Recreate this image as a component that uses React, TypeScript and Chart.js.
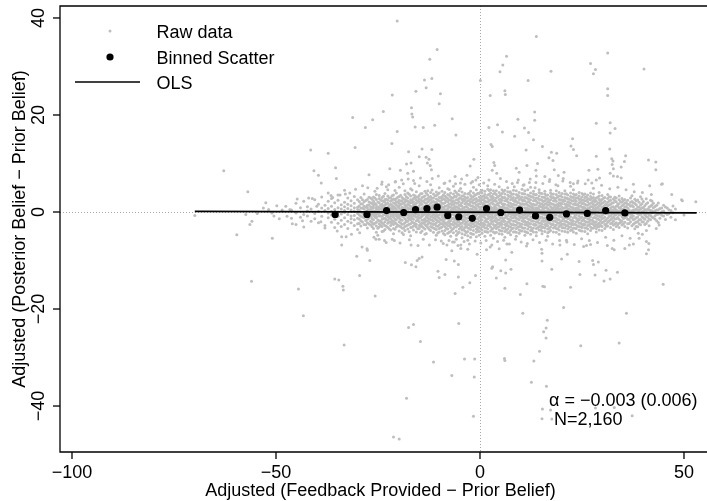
import React, { useEffect, useRef } from "react";
import { Chart, registerables } from "chart.js";

Chart.register(...registerables);

// ---- Data ----
const binX = [-35.5, -27.7, -22.9, -18.7, -15.8, -13.0, -10.5, -7.9, -5.2, -1.9, 1.6, 5.1, 9.7, 13.6, 17.1, 21.2, 26.3, 30.8, 35.5];
const binY = [-0.5, -0.5, 0.3, -0.1, 0.5, 0.7, 1.0, -0.7, -1.0, -1.3, 0.7, -0.1, 0.4, -0.8, -1.1, -0.4, -0.3, 0.3, -0.2];

const olsX = [-69.9, 53.1];
const olsY = [0.12, -0.17];

const xTicks = [-100, -50, 0, 50];
const yTicks = [-40, -20, 0, 20, 40];
const xTickLabels = ["\u2212100", "\u221250", "0", "50"];
const yTickLabels = ["\u221240", "\u221220", "0", "20", "40"];

const legendLabels = ["Raw data", "Binned Scatter", "OLS"];
const noteLines = ["\u03b1 = \u22120.003 (0.006)", "N=2,160"];
const xTitle = "Adjusted (Feedback Provided \u2212 Prior Belief)";
const yTitle = "Adjusted (Posterior Belief \u2212 Prior Belief)";

// scattered raw observations
const rawOutliers: [number, number][] = [
  [-20.3,39.4],[-10.5,33.5],[-12.3,31.5],[-21.5,24.1],[-13.6,27.2],[-11.8,27.5],[-13.2,25.6],[-15.7,24.9],[-9.7,24.4],[-10.0,22.3],
  [-23.7,20.7],[-16.8,21.5],[-16.7,20.2],[-16.5,19.6],[-31.2,19.5],[-26.3,19.0],[-28.1,17.4],[-15.9,17.5],[-13.9,17.4],[-11.1,17.9],
  [-6.8,19.2],[-20.3,16.6],[-5.9,15.9],[-30.6,13.3],[-21.6,14.1],[-17.5,12.4],[-14.2,13.0],[-11.8,12.9],[-14.9,11.4],[-13.2,11.3],
  [-12.5,10.9],[-12.9,10.1],[-12.2,9.6],[-11.9,8.7],[-18.0,9.9],[-16.9,10.1],[-22.1,8.9],[-19.5,8.6],[-17.7,8.0],[-16.3,8.4],
  [-27.2,7.7],[-24.0,6.2],[-24.1,5.7],[-20.7,6.3],[-19.2,6.6],[-17.6,6.8],[-16.3,6.5],[-6.1,7.3],[-4.8,6.0],[-2.4,9.5],
  [-1.5,10.9],[-2.2,6.0],[-1.0,6.6],[0.1,27.1],[2.5,24.0],[4.9,28.9],[5.6,30.3],[6.5,32.1],[6.1,25.0],[6.2,24.2],
  [11.8,27.1],[13.8,36.2],[17.4,29.0],[13.4,20.6],[13.4,18.9],[2.2,17.4],[4.3,18.0],[5.5,16.5],[9.3,19.1],[10.9,17.3],
  [11.9,16.4],[13.1,14.9],[8.5,15.6],[2.7,13.9],[3.0,13.5],[11.3,12.8],[15.3,13.5],[22.7,15.1],[22.3,13.6],[22.9,12.9],
  [23.7,11.6],[17.5,12.3],[18.8,12.1],[17.9,10.6],[3.4,10.2],[3.6,9.6],[3.0,8.6],[4.1,8.0],[8.9,9.0],[9.6,8.2],
  [11.5,9.6],[14.1,10.0],[13.7,8.6],[16.9,11.2],[18.2,8.7],[19.2,7.5],[20.6,8.2],[31.3,32.8],[27.1,30.6],[27.8,28.5],
  [28.3,29.4],[31.3,25.4],[31.3,24.0],[40.2,29.5],[28.5,18.3],[31.9,18.4],[33.1,17.2],[31.9,16.3],[31.8,13.0],[28.5,11.5],
  [26.7,8.6],[28.9,8.8],[32.3,11.0],[32.6,10.5],[32.4,9.8],[32.7,8.9],[35.7,11.6],[35.4,10.4],[34.6,9.3],[41.3,10.7],
  [43.1,10.3],[43.1,8.7],[41.6,5.4],[44.5,5.7],[37.6,5.7],[47.0,3.6],[31.9,8.0],[32.7,7.4],[33.7,7.3],[34.6,7.0],
  [26.5,6.6],[27.4,6.0],[28.5,6.6],[29.3,7.0],[22.1,6.1],[23.9,6.0],[22.9,5.8],[15.9,7.3],[17.1,6.7],[20.3,6.4],
  [19.1,5.4],[9.2,6.1],[10.6,5.5],[12.1,6.1],[13.7,6.1],[13.5,5.0],[7.4,4.2],[8.4,5.2],[49.4,2.5],
  [-41.5,12.8],[-37.2,12.1],[-62.8,8.5],[-40.7,8.5],[-35.4,9.1],[-39.6,7.6],[-35.2,6.9],[-38.9,6.0],[-56.9,4.2],[-33.2,4.5],
  [-31.9,3.9],[-37.2,3.9],[-42.0,2.9],[-41.1,2.8],[-36.5,3.4],[-36.1,3.0],[-34.3,3.5],[-33.0,3.7],[-69.9,-0.7],[-57.4,-0.5],
  [-55.9,-1.9],[-56.4,-2.6],[-59.6,-4.7],[-50.9,-5.4],[-49.2,-1.4],[-51.0,-0.2],[-53.1,0.8],[-51.8,0.5],[-49.8,1.3],[-47.6,1.2],
  [-46.6,0.5],[-33.9,-5.1],[-32.8,-5.1],[-33.9,-6.8],[-30.2,-9.1],[-35.6,-13.8],[-34.6,-14.0],[-33.6,-15.3],[-56.0,-14.3],[-44.5,-15.9],
  [-43.3,-21.4],[-29.5,-13.1],[-27.5,5.0],[-20.8,6.2],
  [-33.5,-16.1],[-28.9,-7.2],[-27.7,-7.6],[-27.6,-7.9],[-27.0,-10.0],[-25.7,-17.3],[-33.3,-27.4],[-25.5,-5.6],[-24.7,-5.6],[-23.4,-5.9],
  [-21.5,-5.6],[-18.3,-10.4],[-16.9,-6.8],[-16.8,-10.9],[-15.7,-11.3],[-15.4,-10.0],[-14.9,-9.6],[-14.2,-9.3],[-17.5,-23.8],[-16.3,-23.2],
  [-14.6,-26.7],[-11.4,-30.9],[-18.0,-38.4],[-21.2,-46.4],[-19.8,-46.8],[-10.3,-12.2],[-10.0,-13.5],[-8.6,-12.9],[-8.3,-9.8],[-6.3,-10.1],
  [-5.3,-10.8],[-9.0,-6.5],[-7.6,-5.9],[-6.9,-8.0],[-6.3,-6.2],[-4.7,-6.8],[-4.7,-7.5],[-3.0,-7.7],[-5.3,-13.4],[-6.1,-16.8],
  [-4.2,-15.5],[-2.5,-14.6],[-1.1,-13.1],[-0.7,-8.7],[-5.2,-23.0],[-3.8,-30.3],[-1.3,-30.3],[-6.9,-33.7],[-1.4,-34.0],[-1.6,-42.1],
  [1.6,-7.8],[2.5,-7.2],[3.1,-11.3],[2.9,-11.6],[4.0,-13.6],[4.7,-7.6],[5.1,-12.1],[6.3,-9.9],[6.3,-12.6],[6.1,-15.7],
  [6.6,-6.6],[7.6,-11.8],[7.8,-8.3],[9.9,-17.0],[10.5,-20.9],[11.4,-7.0],[11.5,-14.8],[6.0,-30.2],[6.1,-30.6],[13.2,-30.7],
  [12.6,-35.1],[14.6,-28.7],[15.1,-7.7],[15.2,-8.5],[15.2,-10.1],[17.6,-11.8],[15.4,-15.3],[15.8,-15.4],[20.0,-9.7],[21.4,-8.7],
  [24.3,-10.2],[22.2,-15.5],[24.5,-12.9],[27.6,-10.0],[27.8,-10.8],[29.0,-10.3],[28.2,-13.0],[30.9,-12.0],[30.4,-14.2],[31.9,-13.8],
  [33.7,-12.4],[44.9,-14.9],[20.5,-19.7],[35.9,-20.9],[16.5,-22.3],[16.2,-23.9],[15.6,-24.7],[16.2,-26.0],[24.7,-27.6],[34.1,-27.0],
  [16.3,-35.9],[15.3,-40.6],[17.3,-40.8],[28.3,-40.4],[37.3,-42.0],[15.2,-42.6],[17.6,-42.7],[32.9,-40.3],
  [26.1,-6.9],[27.1,-6.7],[25.4,-7.1],[31.2,-6.9],[32.4,-7.5],[32.9,-7.8],[35.5,-7.5],[36.6,-6.8],[37.6,-6.6],[40.8,-6.1],
  [41.3,-7.8],[39.8,-4.6],[19.6,-6.8],[21.2,-5.8],[52.9,2.1],[49.6,2.3],[47.9,-1.6],[50.0,-0.6],[43.9,-2.7],[44.7,5.8],
  [41.4,-6.5],[40.8,-8.6],[39.0,-5.4],
];

// mid-range raw observations around the central band
const rawMid: [number, number][] = [
  [-28.8,5.4],[-26.0,-5.2],[-25.2,4.9],[-23.0,-6.3],[-22.4,5.6],[-21.0,-5.9],[-19.6,-6.4],[-18.8,5.8],[-17.3,-5.7],[-16.0,5.9],
  [-15.2,-6.9],[-14.6,7.0],[-13.9,-5.6],[-13.0,6.3],[-12.4,-6.8],[-11.7,6.9],[-10.9,-5.7],[-10.2,7.4],[-9.5,-6.0],[-8.8,5.9],
  [-8.1,-6.8],[-7.4,6.4],[-6.7,-6.2],[-6.0,5.8],[-5.4,-6.9],[-4.5,6.8],[-3.9,-6.1],[-3.2,7.6],[-2.6,-6.6],[-1.8,6.3],
  [-1.2,-6.0],[-0.5,7.1],[0.2,-6.4],[0.9,6.0],[1.5,-5.9],[2.2,6.6],[2.9,-6.8],[3.6,5.7],[4.3,-6.1],[5.0,6.9],
  [5.8,-5.8],[6.5,6.3],[7.2,-6.6],[7.9,5.9],[8.7,-5.6],[9.4,6.6],[10.1,-6.2],[10.8,5.6],[11.6,-6.5],[12.3,6.8],
  [13.0,-5.7],[13.8,7.4],[14.6,-6.3],[15.4,5.9],[16.2,-5.8],[17.0,6.3],[17.8,-6.6],[18.6,5.6],[19.5,-5.9],[20.4,6.9],
  [21.3,-6.2],[22.2,5.3],[23.1,-6.7],[24.0,6.4],[24.9,-5.5],[25.8,5.8],[26.8,-5.9],[27.8,4.9],[28.8,-6.3],[29.8,5.5],
  [30.8,-5.2],[31.8,4.8],[32.8,-5.8],[33.8,5.1],[34.8,-4.9],[35.8,4.6],[36.8,-5.4],[37.8,4.2],[38.8,-4.4],[39.8,4.0],
  [40.8,-3.8],[42.0,3.6],[43.2,-3.4],[-31.5,-4.6],[-30.5,4.7],[-29.5,-4.3],[-35.0,-3.9],[-38.0,-3.3],[-40.0,1.2],[-43.5,-1.8],
  [-48.5,0.4],[-50.5,-0.8],[-52.5,1.9],[-54.6,-0.3],[-46.0,-2.4],[-44.8,2.7],[-47.3,-0.9],[-39.0,-2.0],
];

// dense central band of raw observations, listed column by column: [x, ys]
const rawBand: [number, number[]][] = [
  [-46.2,[0.4,-1.3]],[-45.1,[1.8,-0.2,-2.6]],[-44.0,[0.9,-1.1]],[-43.2,[-0.5,2.2,-3.1]],[-42.3,[1.1,-0.8,0.2]],
  [-41.4,[-1.9,0.6]],[-40.5,[2.5,-0.3,-1.4]],[-39.6,[0.1,1.6,-2.2]],[-38.8,[-0.9,0.8,3.1]],[-38.0,[-2.8,0.3,1.4]],
  [-37.2,[-1.2,0.7,2.2,-0.2]],[-36.4,[1.2,-0.6,-2.1,2.8,0.1]],[-35.6,[-1.5,0.5,1.9,-3.2,-0.2]],[-34.8,[0.9,-0.9,2.4,-2.3,0.0,3.5]],
  [-34.0,[-0.4,1.5,-1.7,0.6,-3.0]],[-33.2,[0.3,-1.2,2.0,-2.6,1.1,-0.1]],[-32.4,[1.6,-0.5,-1.9,0.7,2.9,-3.4]],
  [-31.6,[-0.8,0.4,1.3,-2.2,2.3,-1.4]],[-30.8,[0.2,-1.6,1.8,-0.7,3.2,-2.8,0.9]],[-30.0,[-0.3,1.0,-1.3,2.5,-2.4,0.5,-3.6]],
  [-29.2,[0.8,-0.9,1.7,-1.8,3.0,0.0,-2.9]],[-28.4,[-0.5,0.6,2.1,-1.2,-2.6,1.2,3.7,-0.1]],[-27.6,[0.3,-1.5,1.4,-0.6,2.6,-2.2,0.9,-3.3]],
  [-26.8,[-0.9,0.5,1.9,-1.9,0.0,2.9,-2.7,1.1,-0.4]],
  [-26.1,[0.2,-0.7,1.3,-1.6,2.2,-2.5,0.8,-0.2,3.1,-3.4,1.7]],
  [-25.4,[-0.4,0.6,-1.2,1.5,-2.1,2.6,-0.9,0.1,-2.9,3.6,1.0,-4.2]],
  [-24.7,[0.5,-0.3,1.1,-1.8,1.9,-2.4,2.8,-0.8,-3.1,0.0,3.4]],
  [-24.0,[-0.1,0.9,-0.9,1.6,-1.5,2.3,-2.2,-3.0,3.0,0.4,-4.0,1.3]],
  [-23.3,[0.7,-0.5,1.4,-1.3,2.0,-2.0,-2.8,2.6,0.1,-3.6,3.8]],
  [-22.6,[-0.6,0.3,1.0,-1.7,1.8,-2.3,2.4,-0.2,-3.2,3.3,-1.0,0.9,4.6]],
  [-21.9,[0.0,-0.9,0.8,1.6,-1.4,-2.1,2.2,-2.8,2.9,-3.7,0.5,-0.4]],
  [-21.2,[0.4,-0.2,1.2,-1.1,1.9,-1.9,2.7,-2.6,-3.4,3.5,0.9,-0.7,-4.5]],
  [-20.5,[-0.3,0.6,1.5,-0.8,-1.6,2.1,-2.4,2.8,-3.1,0.2,3.9,-0.1]],
  [-19.8,[0.8,-0.5,0.1,1.3,-1.3,2.4,-2.0,-2.9,3.2,-3.9,1.8,-1.0,5.1]],
  [-19.1,[-0.2,0.5,1.0,-0.9,1.7,-1.7,2.3,-2.5,3.0,-3.3,0.0,-4.3]],
  [-18.4,[0.3,-0.7,1.4,-1.4,2.0,-2.2,2.6,-3.0,0.8,-0.1,3.6,-3.8,4.4]],
  [-17.7,[-0.5,0.2,0.9,-1.2,1.6,-1.9,2.2,-2.7,2.9,-0.2,-3.5,3.9]],
  [-17.0,[0.6,-0.3,1.2,-1.0,1.9,-1.6,2.5,-2.4,-3.2,3.3,0.0,-0.8,4.8,-4.9]],
  [-16.3,[0.1,-0.8,0.7,1.5,-1.5,2.1,-2.2,2.8,-2.9,3.5,-3.7,0.4,-0.3]],
  [-15.6,[-0.4,0.5,1.1,-1.1,1.8,-1.8,2.4,-2.5,3.1,-3.1,0.0,-4.1,4.2]],
  [-14.9,[0.3,-0.6,1.3,-1.3,2.0,-2.0,2.7,-2.8,3.4,-3.4,0.8,-0.1,5.4]],
  [-14.2,[-0.2,0.6,0.9,-0.9,1.6,-1.7,2.3,-2.3,3.0,-3.0,3.8,-3.9,0.2,-0.6]],
  [-13.5,[0.5,-0.4,1.2,-1.4,1.9,-2.0,2.6,-2.6,3.3,-3.5,4.3,0.0,-4.6]],
  [-12.8,[0.0,-0.7,0.7,1.4,-1.3,2.1,-1.9,2.8,-2.5,3.5,-3.2,4.4,0.3,-0.3]],
  [-12.1,[0.4,-0.2,1.1,-1.0,1.8,-1.6,2.5,-2.3,3.2,-3.0,4.0,-3.8,0.9,5.6]],
  [-11.4,[-0.5,0.2,0.9,-1.2,1.5,-1.9,2.2,-2.6,2.9,-3.3,3.7,-4.2,0.6,-0.1]],
  [-10.7,[0.6,-0.3,1.3,-0.9,2.0,-1.6,2.7,-2.2,3.4,-2.9,4.1,-3.6,0.0,-4.8]],
  [-10.0,[0.1,-0.6,0.8,-1.3,1.6,-2.0,2.3,-2.7,3.0,-3.4,3.9,-4.1,0.4,5.0]],
  [-9.3,[-0.3,0.4,1.1,-1.0,1.8,-1.7,2.5,-2.4,3.2,-3.1,4.3,-3.9,0.0,-0.7]],
  [-8.6,[0.5,-0.2,1.2,-0.9,1.9,-1.5,2.6,-2.2,3.3,-3.0,-3.8,4.0,0.0,-4.7,6.0]],
  [-7.9,[0.0,-0.8,0.7,1.4,-1.4,2.1,-2.1,2.8,-2.8,3.6,-3.5,-4.4,4.8,0.3]],
  [-7.2,[0.3,-0.4,1.0,-1.1,1.7,-1.8,2.4,-2.5,3.1,-3.2,3.9,-4.0,0.0,-5.0]],
  [-6.5,[-0.5,0.2,0.9,-1.3,1.6,-2.0,2.3,-2.7,3.0,-3.4,3.7,-4.3,0.6,-0.1,5.3]],
  [-5.8,[0.4,-0.3,1.1,-1.0,1.8,-1.7,2.5,-2.4,3.2,-3.1,4.0,-3.9,0.0,-4.8,-5.6]],
  [-5.1,[0.0,-0.6,0.7,-1.4,1.4,-2.1,2.1,-2.8,2.8,-3.5,3.5,-4.2,4.4,0.3,-0.2]],
  [-4.4,[0.5,-0.2,1.2,-0.9,1.9,-1.6,2.6,-2.3,3.3,-3.0,-3.7,4.1,0.0,-4.5,-5.3]],
  [-3.7,[-0.4,0.3,1.0,-1.1,1.7,-1.8,2.4,-2.5,3.1,-3.2,3.8,-3.9,0.0,-4.7,5.7]],
  [-3.0,[0.2,-0.5,0.9,-1.2,1.6,-1.9,2.3,-2.6,3.0,-3.3,-4.0,3.7,0.0,-4.9,-5.8]],
  [-2.3,[-0.1,0.6,-0.8,1.3,-1.5,2.0,-2.2,2.7,-2.9,3.4,-3.6,-4.4,4.3,0.3,-5.2]],
  [-1.6,[0.4,-0.3,1.1,-1.0,1.8,-1.7,2.5,-2.4,3.2,-3.1,3.9,-3.8,0.0,-4.6,5.1]],
  [-0.9,[0.0,-0.7,0.7,-1.4,1.4,-2.1,2.1,-2.8,2.8,-3.5,3.6,-4.2,4.6,0.3,-5.1]],
  [-0.2,[0.3,-0.4,1.0,-1.1,1.7,-1.8,2.4,-2.5,3.1,-3.2,3.8,-4.0,-4.8,0.0,5.6]],
  [0.5,[-0.3,0.4,1.1,-0.9,1.8,-1.6,2.5,-2.3,3.2,-3.0,3.9,-3.7,4.5,0.0,-4.4]],
  [1.2,[0.2,-0.5,0.8,-1.2,1.5,-1.9,2.2,-2.6,2.9,-3.3,3.6,-4.0,4.3,0.5,-0.1,-5.0]],
  [1.9,[0.0,-0.7,0.7,-1.4,1.4,-2.1,2.1,-2.8,2.8,-3.5,3.5,-4.2,4.7,0.3,5.4]],
  [2.6,[0.4,-0.3,1.1,-1.0,1.8,-1.7,2.5,-2.4,3.2,-3.1,3.9,-3.9,0.0,-4.8,4.6]],
  [3.3,[-0.2,0.5,0.9,-1.2,1.6,-1.9,2.3,-2.6,3.0,-3.3,3.7,-4.1,0.2,4.4,-5.4]],
  [4.0,[0.1,-0.6,0.8,-1.3,1.5,-2.0,2.2,-2.7,2.9,-3.4,3.6,-4.2,4.4,0.4,-0.2]],
  [4.7,[0.5,-0.2,1.2,-0.9,1.9,-1.6,2.6,-2.3,3.3,-3.0,4.0,-3.7,0.0,-4.5,5.2]],
  [5.4,[-0.4,0.3,1.0,-1.1,1.7,-1.8,2.4,-2.5,3.1,-3.2,3.8,-3.9,0.0,-4.6,4.6]],
  [6.1,[0.2,-0.5,0.9,-1.2,1.6,-1.9,2.3,-2.6,3.0,-3.3,3.7,-4.0,4.5,0.0,-5.2]],
  [6.8,[0.0,-0.7,0.7,-1.4,1.4,-2.1,2.1,-2.8,2.8,-3.5,3.5,-4.3,4.2,0.3,5.0]],
  [7.5,[0.4,-0.3,1.1,-1.0,1.8,-1.7,2.5,-2.4,3.2,-3.1,3.9,-3.8,0.0,-4.7]],
  [8.2,[-0.2,0.5,0.9,-1.2,1.6,-1.9,2.3,-2.6,3.0,-3.3,3.7,-4.1,0.2,4.5,-0.6]],
  [8.9,[0.1,-0.6,0.8,-1.3,1.5,-2.0,2.2,-2.7,2.9,-3.4,3.6,-4.2,4.4,0.4,-5.0]],
  [9.6,[0.5,-0.2,1.2,-0.9,1.9,-1.6,2.6,-2.3,3.3,-3.0,4.0,-3.7,0.0,-4.4]],
  [10.3,[-0.4,0.3,1.0,-1.1,1.7,-1.8,2.4,-2.5,3.1,-3.2,3.8,-3.9,0.0,4.7]],
  [11.0,[0.2,-0.5,0.9,-1.2,1.6,-1.9,2.3,-2.6,3.0,-3.3,3.7,-4.0,4.4,0.0,-4.8]],
  [11.7,[0.0,-0.7,0.7,-1.4,1.4,-2.1,2.1,-2.8,2.8,-3.5,3.5,-4.3,0.3,4.6]],
  [12.4,[0.4,-0.3,1.1,-1.0,1.8,-1.7,2.5,-2.4,3.2,-3.1,3.9,-3.8,0.0,-4.6,5.1]],
  [13.1,[-0.2,0.5,0.9,-1.2,1.6,-1.9,2.3,-2.6,3.0,-3.3,3.7,-4.1,0.2,4.3]],
  [13.8,[0.1,-0.6,0.8,-1.3,1.5,-2.0,2.2,-2.7,2.9,-3.4,3.6,-4.2,0.4,-4.9]],
  [14.5,[0.5,-0.2,1.2,-0.9,1.9,-1.6,2.6,-2.3,3.3,-3.0,4.0,-3.7,0.0,4.6]],
  [15.2,[-0.4,0.3,1.0,-1.1,1.7,-1.8,2.4,-2.5,3.1,-3.2,3.8,-3.9,0.0,-4.5]],
  [15.9,[0.2,-0.5,0.9,-1.2,1.6,-1.9,2.3,-2.6,3.0,-3.3,3.7,-4.0,4.3,0.0]],
  [16.6,[0.0,-0.7,0.7,-1.4,1.4,-2.1,2.1,-2.8,2.8,-3.5,3.5,-4.3,0.3,-5.0]],
  [17.3,[0.4,-0.3,1.1,-1.0,1.8,-1.7,2.5,-2.4,3.2,-3.1,3.9,-3.8,0.0,4.5]],
  [18.0,[-0.2,0.5,0.9,-1.2,1.6,-1.9,2.3,-2.6,3.0,-3.3,3.7,-4.1,0.2]],
  [18.7,[0.1,-0.6,0.8,-1.3,1.5,-2.0,2.2,-2.7,2.9,-3.4,3.6,-4.2,0.4,4.4]],
  [19.4,[0.5,-0.2,1.2,-0.9,1.9,-1.6,2.6,-2.3,3.3,-3.0,4.0,-3.7,0.0,-4.6]],
  [20.1,[-0.4,0.3,1.0,-1.1,1.7,-1.8,2.4,-2.5,3.1,-3.2,3.8,-3.9,0.0]],
  [20.8,[0.2,-0.5,0.9,-1.2,1.6,-1.9,2.3,-2.6,3.0,-3.3,3.7,-4.0,4.4]],
  [21.5,[0.0,-0.7,0.7,-1.4,1.4,-2.1,2.1,-2.8,2.8,-3.5,3.5,-4.2,0.3]],
  [22.2,[0.4,-0.3,1.1,-1.0,1.8,-1.7,2.5,-2.4,3.2,-3.1,3.9,-3.8,0.0]],
  [22.9,[-0.2,0.5,0.9,-1.2,1.6,-1.9,2.3,-2.6,3.0,-3.3,3.7,-4.1,4.6]],
  [23.6,[0.1,-0.6,0.8,-1.3,1.5,-2.0,2.2,-2.7,2.9,-3.4,3.6,0.4,-4.4]],
  [24.3,[0.5,-0.2,1.2,-0.9,1.9,-1.6,2.6,-2.3,3.3,-3.0,4.0,-3.7,0.0]],
  [25.0,[-0.4,0.3,1.0,-1.1,1.7,-1.8,2.4,-2.5,3.1,-3.2,3.8,-3.9]],
  [25.7,[0.2,-0.5,0.9,-1.2,1.6,-1.9,2.3,-2.6,3.0,-3.3,3.7,-4.0,0.0]],
  [26.4,[0.0,-0.7,0.7,-1.4,1.4,-2.1,2.1,-2.8,2.8,-3.5,3.5,0.3,-4.5]],
  [27.1,[0.4,-0.3,1.1,-1.0,1.8,-1.7,2.5,-2.4,3.2,-3.1,3.9,-3.8]],
  [27.8,[-0.2,0.5,0.9,-1.2,1.6,-1.9,2.3,-2.6,3.0,-3.3,3.7,0.2]],
  [28.5,[0.1,-0.6,0.8,-1.3,1.5,-2.0,2.2,-2.7,2.9,-3.4,-4.1,0.4]],
  [29.2,[0.5,-0.2,1.2,-0.9,1.9,-1.6,2.6,-2.3,3.3,-3.0,4.0,-3.7]],
  [29.9,[0.2,-0.7,1.0,-1.4,1.8,-2.2,2.6,-3.0,3.4,-0.2,-3.8]],
  [30.6,[-0.3,0.5,-1.1,1.4,-1.8,2.2,-2.6,3.0,0.1,-3.4]],
  [31.3,[0.6,-0.4,1.3,-1.3,2.0,-2.1,2.8,-2.9,0.0,3.6]],
  [32.0,[0.0,-0.8,0.8,-1.6,1.6,-2.4,2.4,-3.2,3.1,0.4]],
  [32.7,[0.3,-0.3,1.1,-1.1,1.9,-1.9,2.7,-2.7,-3.6,0.0]],
  [33.4,[-0.5,0.4,1.2,-1.4,2.1,-2.2,2.9,-3.0,0.0]],
  [34.1,[0.1,-0.6,0.9,-1.5,1.7,-2.3,2.5,-3.2,3.3]],
  [34.8,[0.5,-0.2,1.3,-1.0,2.0,-1.9,-2.7,2.8,0.0]],
  [35.5,[-0.3,0.3,1.0,-1.2,1.8,-2.1,2.6,-3.0]],
  [36.2,[0.2,-0.6,0.8,-1.5,1.6,-2.4,2.4,0.0,-3.3]],
  [36.9,[0.0,-0.4,1.2,-1.1,2.0,-2.0,2.9]],
  [37.6,[0.4,-0.8,1.1,-1.6,1.9,-2.5,-0.1]],
  [38.3,[-0.2,0.6,-1.2,1.5,-2.1,2.3,-3.0]],
  [39.0,[0.3,-0.5,1.0,-1.6,2.0,-2.4]],
  [39.7,[0.0,-1.0,0.8,1.7,-2.0,2.7]],
  [40.4,[0.5,-0.6,1.3,-1.5,-2.6]],
  [41.1,[-0.2,0.6,-1.1,1.9,-1.9]],
  [41.8,[0.3,-0.7,1.2,-1.6,2.4]],
  [42.5,[0.0,-1.2,0.9,1.8]],
  [43.3,[0.4,-0.5,-1.8,1.4]],
  [44.1,[-0.3,0.7,-1.3]],
  [45.0,[0.2,1.4,-0.8]],
  [45.9,[-0.5,0.8]],
  [46.8,[0.3,-1.1]],
  [47.9,[0.6]],
];

// second set of band columns, between the first ones
const rawBandB: [number, number[]][] = [
  [-29.6,[0.35,-0.55,1.25,-1.45,2.15,-2.35]],[-28.8,[-0.25,0.75,-1.05,1.65,-2.05,2.55]],
  [-28.0,[0.15,-0.85,1.05,-1.75,2.35,-2.65]],[-27.2,[-0.45,0.45,1.45,-1.25,2.05,-2.45,3.05]],
  [-26.45,[0.25,-0.35,0.95,-1.35,1.75,-2.15,2.65,-3.05]],
  [-25.75,[0.15,-1.05,1.75,-2.3,2.9,-0.45,4.3]],
  [-25.05,[-0.25,0.95,-1.65,2.05,-3.35,0.45,-4.8]],
  [-24.35,[0.65,-0.85,1.45,-1.95,2.45,-2.75,-0.15]],
  [-23.65,[-0.55,0.25,1.15,-1.35,2.15,-2.45,3.25,-3.9]],
  [-22.95,[0.35,-0.75,1.65,-1.55,2.65,-2.95,0.05,5.2]],
  [-22.25,[-0.15,0.85,-1.25,1.35,-2.05,2.95,-3.45,0.45]],
  [-21.55,[0.55,-0.45,1.35,-1.75,2.45,-2.35,3.35,-0.05]],
  [-20.85,[-0.35,0.15,0.95,-1.45,1.75,-2.15,2.55,-3.55,4.45]],
  [-20.15,[0.25,-0.95,1.15,-1.15,2.05,-2.75,3.05,-0.35]],
  [-19.45,[-0.65,0.45,1.55,-1.55,2.25,-2.25,3.45,-3.05]],
  [-18.75,[0.05,-0.35,0.85,-1.05,1.85,-2.45,2.75,-3.35,-4.65]],
  [-18.05,[0.45,-0.65,1.25,-1.75,2.35,-1.95,3.15,-2.85,0.0]],
  [-17.35,[-0.25,0.65,-0.85,1.45,-1.45,2.05,-2.55,3.65,-4.05]],
  [-16.65,[0.35,-0.15,1.05,-1.25,1.95,-2.05,2.45,-3.15,-0.55,4.55]],
  [-15.95,[-0.45,0.25,1.35,-0.85,1.65,-2.35,2.85,-2.75,3.35]],
  [-15.25,[0.15,-0.95,0.75,-1.55,2.25,-1.75,3.05,-3.45,-0.35]],
  [-14.55,[-0.05,0.45,1.55,-1.15,1.85,-2.45,2.55,-2.95,3.75,-4.25]],
  [-13.85,[0.65,-0.55,1.05,-1.65,2.15,-2.25,3.15,-3.25,0.05]],
  [-13.15,[-0.35,0.05,0.95,-0.95,1.75,-1.85,2.65,-2.85,3.85,-4.45]],
  [-12.45,[0.25,-0.45,1.45,-1.45,2.35,-2.15,3.05,-3.55,0.65]],
  [-11.75,[-0.15,0.75,-0.75,1.25,-1.65,2.05,-2.45,2.85,-3.15,4.55]],
  [-11.05,[0.45,-0.85,1.15,-1.35,1.95,-2.55,3.35,-3.45,-0.25]],
  [-10.35,[-0.55,0.35,0.85,-1.05,1.55,-1.85,2.45,-2.95,3.65,-4.35]],
  [-9.65,[0.05,-0.25,1.35,-1.55,2.15,-2.35,2.95,-3.25,0.55]],
  [-8.95,[-0.45,0.55,0.95,-1.25,1.75,-1.95,2.75,-2.65,3.55,-4.45]],
  [-8.25,[0.35,-0.65,1.25,-1.05,2.25,-2.45,3.05,-3.35,-0.05]],
  [-7.55,[-0.25,0.15,1.05,-1.65,1.65,-2.15,2.45,-2.85,3.45,-4.15,4.65]],
  [-6.85,[0.55,-0.35,1.45,-1.35,2.05,-2.55,2.85,-3.65,-0.15]],
  [-6.15,[-0.05,0.65,-0.85,1.15,-1.55,1.95,-2.25,3.25,-3.05,4.35]],
  [-5.45,[0.25,-0.55,0.95,-1.25,1.85,-2.05,2.55,-2.75,3.65,-4.45]],
  [-4.75,[-0.35,0.45,1.35,-0.95,1.55,-2.35,2.95,-3.25,-0.05,4.85]],
  [-4.05,[0.15,-0.75,0.75,-1.55,2.25,-1.95,2.65,-3.55,3.35]],
  [-3.35,[-0.55,0.35,1.15,-1.35,1.95,-2.15,2.85,-2.95,-4.25,0.05]],
  [-2.65,[0.45,-0.25,1.55,-1.05,1.65,-2.65,2.35,-3.35,3.85]],
  [-1.95,[-0.15,0.55,-0.95,1.25,-1.65,2.15,-2.35,3.05,-3.05,-4.55]],
  [-1.25,[0.25,-0.45,0.95,-1.25,1.85,-2.05,2.65,-2.85,3.45,0.05]],
  [-0.55,[-0.35,0.15,1.35,-1.45,1.55,-2.25,2.35,-3.15,3.85,-3.75]],
  [0.15,[0.55,-0.65,1.05,-1.15,2.15,-1.85,2.85,-2.55,-3.45,4.15]],
  [0.85,[-0.05,0.35,1.45,-0.95,1.75,-2.35,2.55,-2.95,3.25,-0.45]],
  [1.55,[0.35,-0.35,0.85,-1.55,2.05,-1.95,3.05,-3.25,-4.05,0.05]],
  [2.25,[-0.45,0.05,1.25,-1.15,1.55,-2.55,2.35,-2.75,3.65,4.45]],
  [2.95,[0.15,-0.85,0.75,-1.35,1.95,-2.05,2.75,-3.55,3.25,-0.35]],
  [3.65,[-0.25,0.55,1.15,-0.85,2.25,-1.75,2.45,-2.95,-4.35,3.85]],
  [4.35,[0.45,-0.45,1.55,-1.65,1.75,-2.35,3.15,-3.15,0.05]],
  [5.05,[-0.55,0.25,0.95,-1.25,2.05,-2.15,2.65,-2.65,3.55,-3.85]],
  [5.75,[0.05,-0.15,1.35,-1.45,1.65,-1.95,2.95,-3.35,4.25,0.65]],
  [6.45,[0.35,-0.75,0.85,-1.05,2.35,-2.45,2.55,-2.85,-3.75]],
  [7.15,[-0.35,0.45,1.25,-1.55,1.85,-2.05,3.25,-3.05,0.05,-4.25]],
  [7.85,[0.25,-0.55,1.05,-1.25,1.55,-2.65,2.75,-3.45,3.65]],
  [8.55,[-0.15,0.65,1.45,-0.95,2.15,-1.85,2.45,-2.75,-0.45,-4.05]],
  [9.25,[0.45,-0.35,0.75,-1.45,1.95,-2.25,3.05,-3.15,3.45]],
  [9.95,[-0.45,0.15,1.15,-1.15,1.65,-2.45,2.85,-2.95,-3.85,0.65]],
  [10.65,[0.15,-0.65,1.55,-1.35,2.25,-1.95,2.55,-3.35,3.75]],
  [11.35,[-0.25,0.45,0.85,-1.05,1.75,-2.15,2.95,-2.65,-0.05,-4.15]],
  [12.05,[0.55,-0.45,1.25,-1.55,2.05,-2.35,2.65,-3.05,3.35]],
  [12.75,[-0.05,0.25,1.05,-1.25,1.55,-1.85,3.15,-3.45,-3.85,0.65]],
  [13.45,[0.35,-0.85,1.45,-0.95,2.35,-2.55,2.45,-2.75,3.55]],
  [14.15,[-0.35,0.55,0.75,-1.45,1.85,-2.05,2.85,-3.25,0.05]],
  [14.85,[0.25,-0.25,1.15,-1.15,1.65,-2.25,2.55,-2.95,-3.65,3.85]],
  [15.55,[-0.45,0.65,1.35,-1.35,2.15,-1.95,3.05,-3.15,0.05]],
  [16.25,[0.05,-0.55,0.95,-1.65,1.75,-2.45,2.65,-2.85,3.45]],
  [16.95,[0.45,-0.35,1.55,-1.05,2.05,-2.15,2.45,-3.35,-0.15,-4.05]],
  [17.65,[-0.25,0.25,0.85,-1.35,1.65,-2.55,2.95,-2.65,3.65]],
  [18.35,[0.35,-0.65,1.25,-1.25,2.25,-1.85,2.75,-3.05,-0.05]],
  [19.05,[-0.15,0.45,1.05,-1.55,1.55,-2.25,3.15,-3.45,0.75]],
  [19.75,[0.55,-0.45,1.45,-0.95,1.85,-2.05,2.55,-2.75,3.35]],
  [20.45,[-0.35,0.15,0.75,-1.45,2.15,-2.45,2.45,-3.25,-0.05]],
  [21.15,[0.25,-0.85,1.15,-1.15,1.65,-1.95,2.85,-2.85,3.75]],
  [21.85,[-0.45,0.55,1.35,-1.35,1.95,-2.35,2.65,-3.15,0.05]],
  [22.55,[0.05,-0.25,0.95,-1.65,2.25,-2.15,3.05,-2.65,-3.65]],
  [23.25,[0.45,-0.55,1.55,-1.05,1.75,-2.55,2.55,-3.35,3.45]],
  [23.95,[-0.25,0.35,0.85,-1.45,1.55,-1.85,2.95,-2.95,0.05]],
  [24.65,[0.35,-0.35,1.25,-1.25,2.05,-2.25,2.75,-3.05,-3.85]],
  [25.35,[-0.15,0.65,1.05,-1.55,1.85,-2.45,2.45,-2.75,3.55]],
  [26.05,[0.55,-0.65,1.45,-0.95,2.35,-2.05,3.15,-3.25]],
  [26.75,[-0.35,0.25,0.75,-1.35,1.65,-1.95,2.65,-2.65,0.05]],
  [27.45,[0.25,-0.45,1.15,-1.65,1.95,-2.35,2.85,-3.35]],
  [28.15,[-0.45,0.45,1.35,-1.15,2.15,-2.15,2.55,-2.95,0.05]],
  [28.85,[0.05,-0.75,0.95,-1.45,1.75,-2.55,3.05,-3.05]],
  [29.55,[0.45,-0.25,1.55,-1.05,2.25,-1.85,2.45,-2.75]],
  [30.25,[0.25,-0.45,1.15,-1.25,1.95,-2.05,2.85]],[30.95,[-0.35,0.55,0.85,-1.65,1.65,-2.45,-2.95]],
  [31.65,[0.15,-0.25,1.45,-0.95,2.25,-1.85,3.15]],[32.35,[-0.45,0.35,1.05,-1.35,1.85,-2.25]],
  [33.05,[0.45,-0.65,0.75,-1.45,2.35,-2.45,3.05]],[33.75,[-0.15,0.25,1.25,-1.15,1.65,-2.65]],
  [34.45,[0.35,-0.45,0.95,-1.75,2.15,-2.15]],[35.15,[-0.25,0.55,1.45,-1.35,-2.45,2.35]],
  [35.85,[0.05,-0.85,1.15,-1.05,1.95]],[36.55,[-0.35,0.45,-1.55,1.55,-2.35]],
  [37.25,[0.25,-0.65,1.35,-1.25,2.15,-2.85,3.35]],[37.95,[-0.15,0.45,-1.45,1.75,-2.25,2.65,-3.45]],
  [38.65,[0.35,-0.35,1.05,-1.05,2.45,-1.95,-3.05]],[39.35,[-0.45,0.55,1.45,-1.55,-2.65,3.15]],
  [40.05,[0.15,-0.25,0.95,-1.25,2.15,-2.05]],[40.75,[-0.35,0.35,1.65,-0.95,-2.35,2.75]],
  [41.45,[0.45,-0.55,1.05,-1.45,-2.85]],[42.15,[-0.15,0.25,1.45,-1.05,2.25]],
  [42.9,[0.25,-0.75,-1.45,1.15]],[43.7,[-0.45,0.45,1.85,-2.15]],[44.55,[0.05,-0.65,0.85]],
  [45.45,[-0.25,1.05,-1.55]],[46.3,[0.45,-0.35]],[47.3,[-0.15,1.25]],
];

// ---- styling ----
const FONT = "'Liberation Sans', Arial, Helvetica, sans-serif";
const GREY = "#bebebe";

const rawPoints = [
  ...rawOutliers.map(([x, y]) => ({ x, y })),
  ...rawMid.map(([x, y]) => ({ x, y })),
  ...rawBand.flatMap(([x, ys]) => ys.map((y) => ({ x, y }))),
  ...rawBandB.flatMap(([x, ys]) => ys.map((y) => ({ x, y }))),
];

const decorPlugin = {
  id: "decor",
  beforeDatasetsDraw(chart: any) {
    const { ctx, chartArea: a, scales } = chart;
    const x = scales.x, y = scales.y;
    ctx.save();
    ctx.strokeStyle = "#a8a8a8";
    ctx.lineWidth = 1;
    ctx.setLineDash([1, 2]);
    const y0 = Math.round(y.getPixelForValue(0)) + 0.5;
    const x0 = Math.round(x.getPixelForValue(0)) + 0.5;
    ctx.beginPath();
    ctx.moveTo(a.left, y0);
    ctx.lineTo(a.right, y0);
    ctx.moveTo(x0, a.top);
    ctx.lineTo(x0, a.bottom);
    ctx.stroke();
    ctx.restore();
  },
  afterDatasetsDraw(chart: any) {
    const { ctx, chartArea: a, scales } = chart;
    const x = scales.x, y = scales.y;
    ctx.save();
    ctx.strokeStyle = "#000";
    ctx.fillStyle = "#000";
    ctx.lineWidth = 1.3;
    ctx.setLineDash([]);
    // box: top, left, bottom (right side is outside the picture)
    ctx.beginPath();
    ctx.moveTo(a.right + 5, a.top);
    ctx.lineTo(a.left, a.top);
    ctx.lineTo(a.left, a.bottom);
    ctx.lineTo(a.right + 5, a.bottom);
    ctx.stroke();

    ctx.font = `18px ${FONT}`;
    // x ticks
    ctx.textAlign = "center";
    ctx.textBaseline = "alphabetic";
    xTicks.forEach((v, i) => {
      const px = x.getPixelForValue(v);
      ctx.beginPath();
      ctx.moveTo(px, a.bottom);
      ctx.lineTo(px, a.bottom + 7);
      ctx.stroke();
      ctx.fillText(xTickLabels[i], px, a.bottom + 25.5);
    });
    // y ticks (rotated labels)
    yTicks.forEach((v, i) => {
      const py = y.getPixelForValue(v);
      ctx.beginPath();
      ctx.moveTo(a.left, py);
      ctx.lineTo(a.left - 7, py);
      ctx.stroke();
      ctx.save();
      ctx.translate(a.left - 16.5, py);
      ctx.rotate(-Math.PI / 2);
      ctx.textAlign = "center";
      ctx.fillText(yTickLabels[i], 0, 0);
      ctx.restore();
    });
    // axis titles
    ctx.textAlign = "center";
    ctx.fillText(xTitle, (a.left + a.right) / 2 - 3, a.bottom + 44);
    ctx.save();
    ctx.translate(25, (a.top + a.bottom) / 2);
    ctx.rotate(-Math.PI / 2);
    ctx.fillText(yTitle, 0, 0);
    ctx.restore();

    // legend
    ctx.textAlign = "left";
    ctx.fillStyle = GREY;
    ctx.beginPath();
    ctx.arc(110, 31, 1.5, 0, Math.PI * 2);
    ctx.fill();
    ctx.fillStyle = "#000";
    ctx.beginPath();
    ctx.arc(110, 57, 3.6, 0, Math.PI * 2);
    ctx.fill();
    ctx.lineWidth = 1.5;
    ctx.beginPath();
    ctx.moveTo(75, 82);
    ctx.lineTo(140, 82);
    ctx.stroke();
    ctx.fillText(legendLabels[0], 156.5, 37.5);
    ctx.fillText(legendLabels[1], 156.5, 63.5);
    ctx.fillText(legendLabels[2], 156.5, 89);

    // note
    ctx.fillText(noteLines[0], 549, 406);
    ctx.fillText(noteLines[1], 554, 425);
    ctx.restore();
  },
};

export default function App() {
  const ref = useRef<HTMLCanvasElement | null>(null);
  useEffect(() => {
    if (!ref.current) return;
    const chart = new Chart(ref.current, {
      type: "scatter",
      data: {
        datasets: [
          {
            label: "Binned Scatter",
            data: binX.map((x, i) => ({ x, y: binY[i] })),
            backgroundColor: "#000",
            borderWidth: 0,
            pointRadius: 3.6,
          },
          {
            type: "line",
            label: "OLS",
            data: olsX.map((x, i) => ({ x, y: olsY[i] })),
            borderColor: "#000",
            borderWidth: 1.7,
            pointRadius: 0,
            fill: false,
          } as any,
          {
            label: "Raw data",
            data: rawPoints,
            backgroundColor: GREY,
            borderWidth: 0,
            pointRadius: 1.5,
          },
        ],
      },
      options: {
        animation: false,
        responsive: false,
        events: [],
        layout: { autoPadding: false, padding: { top: 6, right: 0, left: 0, bottom: 0 } },
        plugins: { legend: { display: false }, tooltip: { enabled: false } },
        scales: {
          x: {
            type: "linear",
            min: -102.94,
            max: 55.64,
            ticks: { display: false },
            grid: { display: false },
            border: { display: false },
            afterFit: (s: any) => { s.height = 49; },
          },
          y: {
            type: "linear",
            min: -49.48,
            max: 42.47,
            ticks: { display: false },
            grid: { display: false },
            border: { display: false },
            afterFit: (s: any) => { s.width = 60; },
          },
        },
      },
      plugins: [decorPlugin],
    } as any);
    return () => chart.destroy();
  }, []);
  return (
    <div style={{ position: "fixed", left: 0, top: 0, width: 707, height: 501, background: "#fff" }}>
      <canvas ref={ref} width={707} height={501} style={{ width: 707, height: 501 }} />
    </div>
  );
}
